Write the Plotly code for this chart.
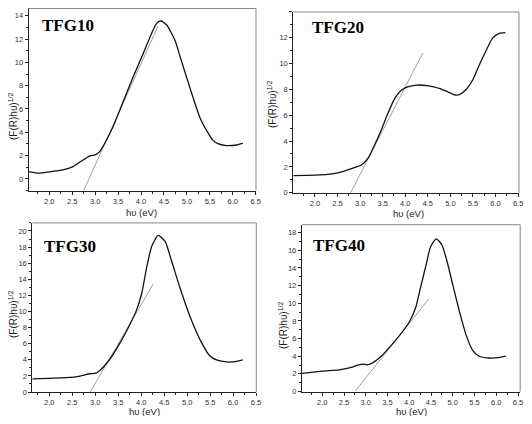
import plotly.graph_objects as go

# TFG10
hv10 = [1.56, 1.76, 2.0, 2.3, 2.52, 2.67, 2.89, 3.0, 3.1, 3.21, 3.39, 3.61, 3.83, 4.05, 4.23, 4.34,
        4.43, 4.56, 4.74, 4.85, 5.07, 5.28, 5.46, 5.56, 5.66, 5.86, 6.08, 6.22]
f10 = [0.63, 0.5, 0.6, 0.77, 1.06, 1.45, 1.97, 2.06, 2.34, 3.06, 4.48, 6.62, 8.77, 10.77, 12.48, 13.34,
       13.57, 13.2, 11.9, 10.5, 7.77, 5.3, 3.95, 3.35, 3.05, 2.86, 2.91, 3.08]
tan10_x = [2.75, 4.37]
tan10_y = [-1.0, 13.1]

# TFG20
hv20 = [1.52, 2.0, 2.38, 2.67, 2.89, 3.03, 3.18, 3.32, 3.47, 3.61, 3.76, 3.9, 4.05, 4.26, 4.48,
        4.63, 4.77, 4.95, 5.1, 5.2, 5.35, 5.5, 5.64, 5.79, 5.93, 6.08, 6.22]
f20 = [1.33, 1.36, 1.46, 1.7, 1.96, 2.14, 2.7, 3.7, 4.86, 6.1, 7.25, 7.9, 8.2, 8.34, 8.3,
       8.2, 8.06, 7.8, 7.58, 7.6, 8.0, 8.77, 9.9, 11.0, 11.96, 12.34, 12.4]
tan20_x = [2.79, 4.39]
tan20_y = [0.0, 10.83]

# TFG30
hv30 = [1.63, 2.0, 2.38, 2.67, 2.88, 2.99, 3.1, 3.32, 3.54, 3.75, 3.9, 4.01, 4.12, 4.23, 4.37,
        4.52, 4.66, 4.84, 5.06, 5.28, 5.49, 5.64, 5.86, 6.08, 6.21]
f30 = [1.62, 1.7, 1.78, 1.98, 2.27, 2.3, 2.68, 4.1, 6.1, 8.36, 10.2, 12.2, 15.5, 18.1, 19.44,
       18.7, 16.3, 13.0, 9.4, 6.5, 4.5, 3.98, 3.73, 3.81, 3.98]
tan30_x = [2.89, 4.26]
tan30_y = [0.0, 13.4]

# TFG40
hv40 = [1.53, 2.0, 2.39, 2.69, 2.84, 2.95, 3.03, 3.14, 3.36, 3.59, 3.81, 4.0, 4.15, 4.26, 4.38,
        4.49, 4.62, 4.75, 4.86, 5.0, 5.15, 5.3, 5.45, 5.6, 5.83, 6.05, 6.22]
f40 = [2.05, 2.31, 2.46, 2.76, 3.02, 3.1, 3.02, 3.2, 4.03, 5.26, 6.56, 7.87, 9.55, 11.8, 14.2,
       16.4, 17.3, 16.6, 14.9, 12.1, 9.13, 6.5, 4.73, 4.0, 3.8, 3.84, 4.0]
tan40_x = [2.75, 4.45]
tan40_y = [0.0, 10.5]

names = ["TFG10", "TFG20", "TFG30", "TFG40"]
xtick_vals = [2.0, 2.5, 3.0, 3.5, 4.0, 4.5, 5.0, 5.5, 6.0, 6.5]

# the page has an 8px body margin, keep the figure inside the 532x424 window
W, H = 516, 408

panels = [
    (hv10, f10, tan10_x, tan10_y, [1.55, 6.505], [-1, 14.62], [0.0399, 0.4806], [0.5525, 0.9988]),
    (hv20, f20, tan20_x, tan20_y, [1.52, 6.52], [0, 14], [0.5529, 0.9903], [0.5473, 0.9902]),
    (hv30, f30, tan30_x, tan30_y, [1.63, 6.505], [0, 21], [0.0471, 0.4812], [0.0588, 0.4733]),
    (hv40, f40, tan40_x, tan40_y, [1.53, 6.55], [0, 18.9], [0.5694, 0.9926], [0.0600, 0.4689]),
]

fig = go.Figure()
tickfont = dict(family="Liberation Sans, Arial", size=7.5, color="#333")
shapes = []
annotations = []

for i, (hv, f, tx, ty, xr, yr, xd, yd) in enumerate(panels):
    n = "" if i == 0 else str(i + 1)
    xa, ya = "x" + n, "y" + n
    fig.add_trace(go.Scatter(x=tx, y=ty, mode="lines", xaxis=xa, yaxis=ya,
                             line=dict(color="#888", width=0.8), showlegend=False))
    fig.add_trace(go.Scatter(x=hv, y=f, mode="lines", xaxis=xa, yaxis=ya,
                             line=dict(color="#111", width=1.3, shape="spline", smoothing=0.6),
                             showlegend=False))
    common = dict(showgrid=False, zeroline=False, showline=True, linecolor="#222", linewidth=1,
                  ticks="outside", ticklen=3, tickcolor="#222", tickfont=tickfont,
                  automargin=False)
    fig.layout["xaxis" + n] = dict(common, domain=xd, range=xr, anchor=ya,
                                   tickvals=xtick_vals, ticktext=["%.1f" % v for v in xtick_vals],
                                   minor=dict(ticks="outside", ticklen=2, dtick=0.25,
                                              tickcolor="#222"))
    fig.layout["yaxis" + n] = dict(common, domain=yd, range=yr, anchor=xa, dtick=2, tick0=0,
                                   minor=dict(ticks="outside", ticklen=2, dtick=1,
                                              tickcolor="#222"))
    # grey top/right frame
    shapes.append(dict(type="line", xref=xa + " domain", yref=ya + " domain",
                       x0=0, x1=1, y0=1, y1=1, line=dict(color="#888", width=1)))
    shapes.append(dict(type="line", xref=xa + " domain", yref=ya + " domain",
                       x0=1, x1=1, y0=0, y1=1, line=dict(color="#888", width=1)))

# labels, axis titles (figure pixels)
label_pos = [(32, 18), (302, 19), (34, 238), (303, 237)]
xtitles = [(133, 204), (400, 205), (136, 403), (403, 403)]
ytitles = [(5, 108), (264, 96), (5, 306), (275, 317)]

for name, (px, py) in zip(names, label_pos):
    annotations.append(dict(text="<b>%s</b>" % name, xref="paper", yref="paper",
                            x=px / W, y=1 - py / H, xanchor="left", yanchor="middle",
                            showarrow=False,
                            font=dict(family="Liberation Serif, Times New Roman", size=17,
                                      color="black")))
for (px, py) in xtitles:
    annotations.append(dict(text="hυ (eV)", xref="paper", yref="paper", x=px / W, y=1 - py / H,
                            xanchor="center", yanchor="middle", showarrow=False,
                            font=dict(family="Liberation Sans, Arial", size=9.5, color="#222")))
for (px, py) in ytitles:
    annotations.append(dict(text="(F(R)hυ)<sup>1/2</sup>", xref="paper", yref="paper",
                            x=px / W, y=1 - py / H, textangle=-90,
                            xanchor="center", yanchor="middle", showarrow=False,
                            font=dict(family="Liberation Sans, Arial", size=10, color="#222")))

fig.update_layout(width=W, height=H, margin=dict(l=0, r=0, t=0, b=0),
                  paper_bgcolor="white", plot_bgcolor="white",
                  shapes=shapes, annotations=annotations)

fig.write_html("out.html")
